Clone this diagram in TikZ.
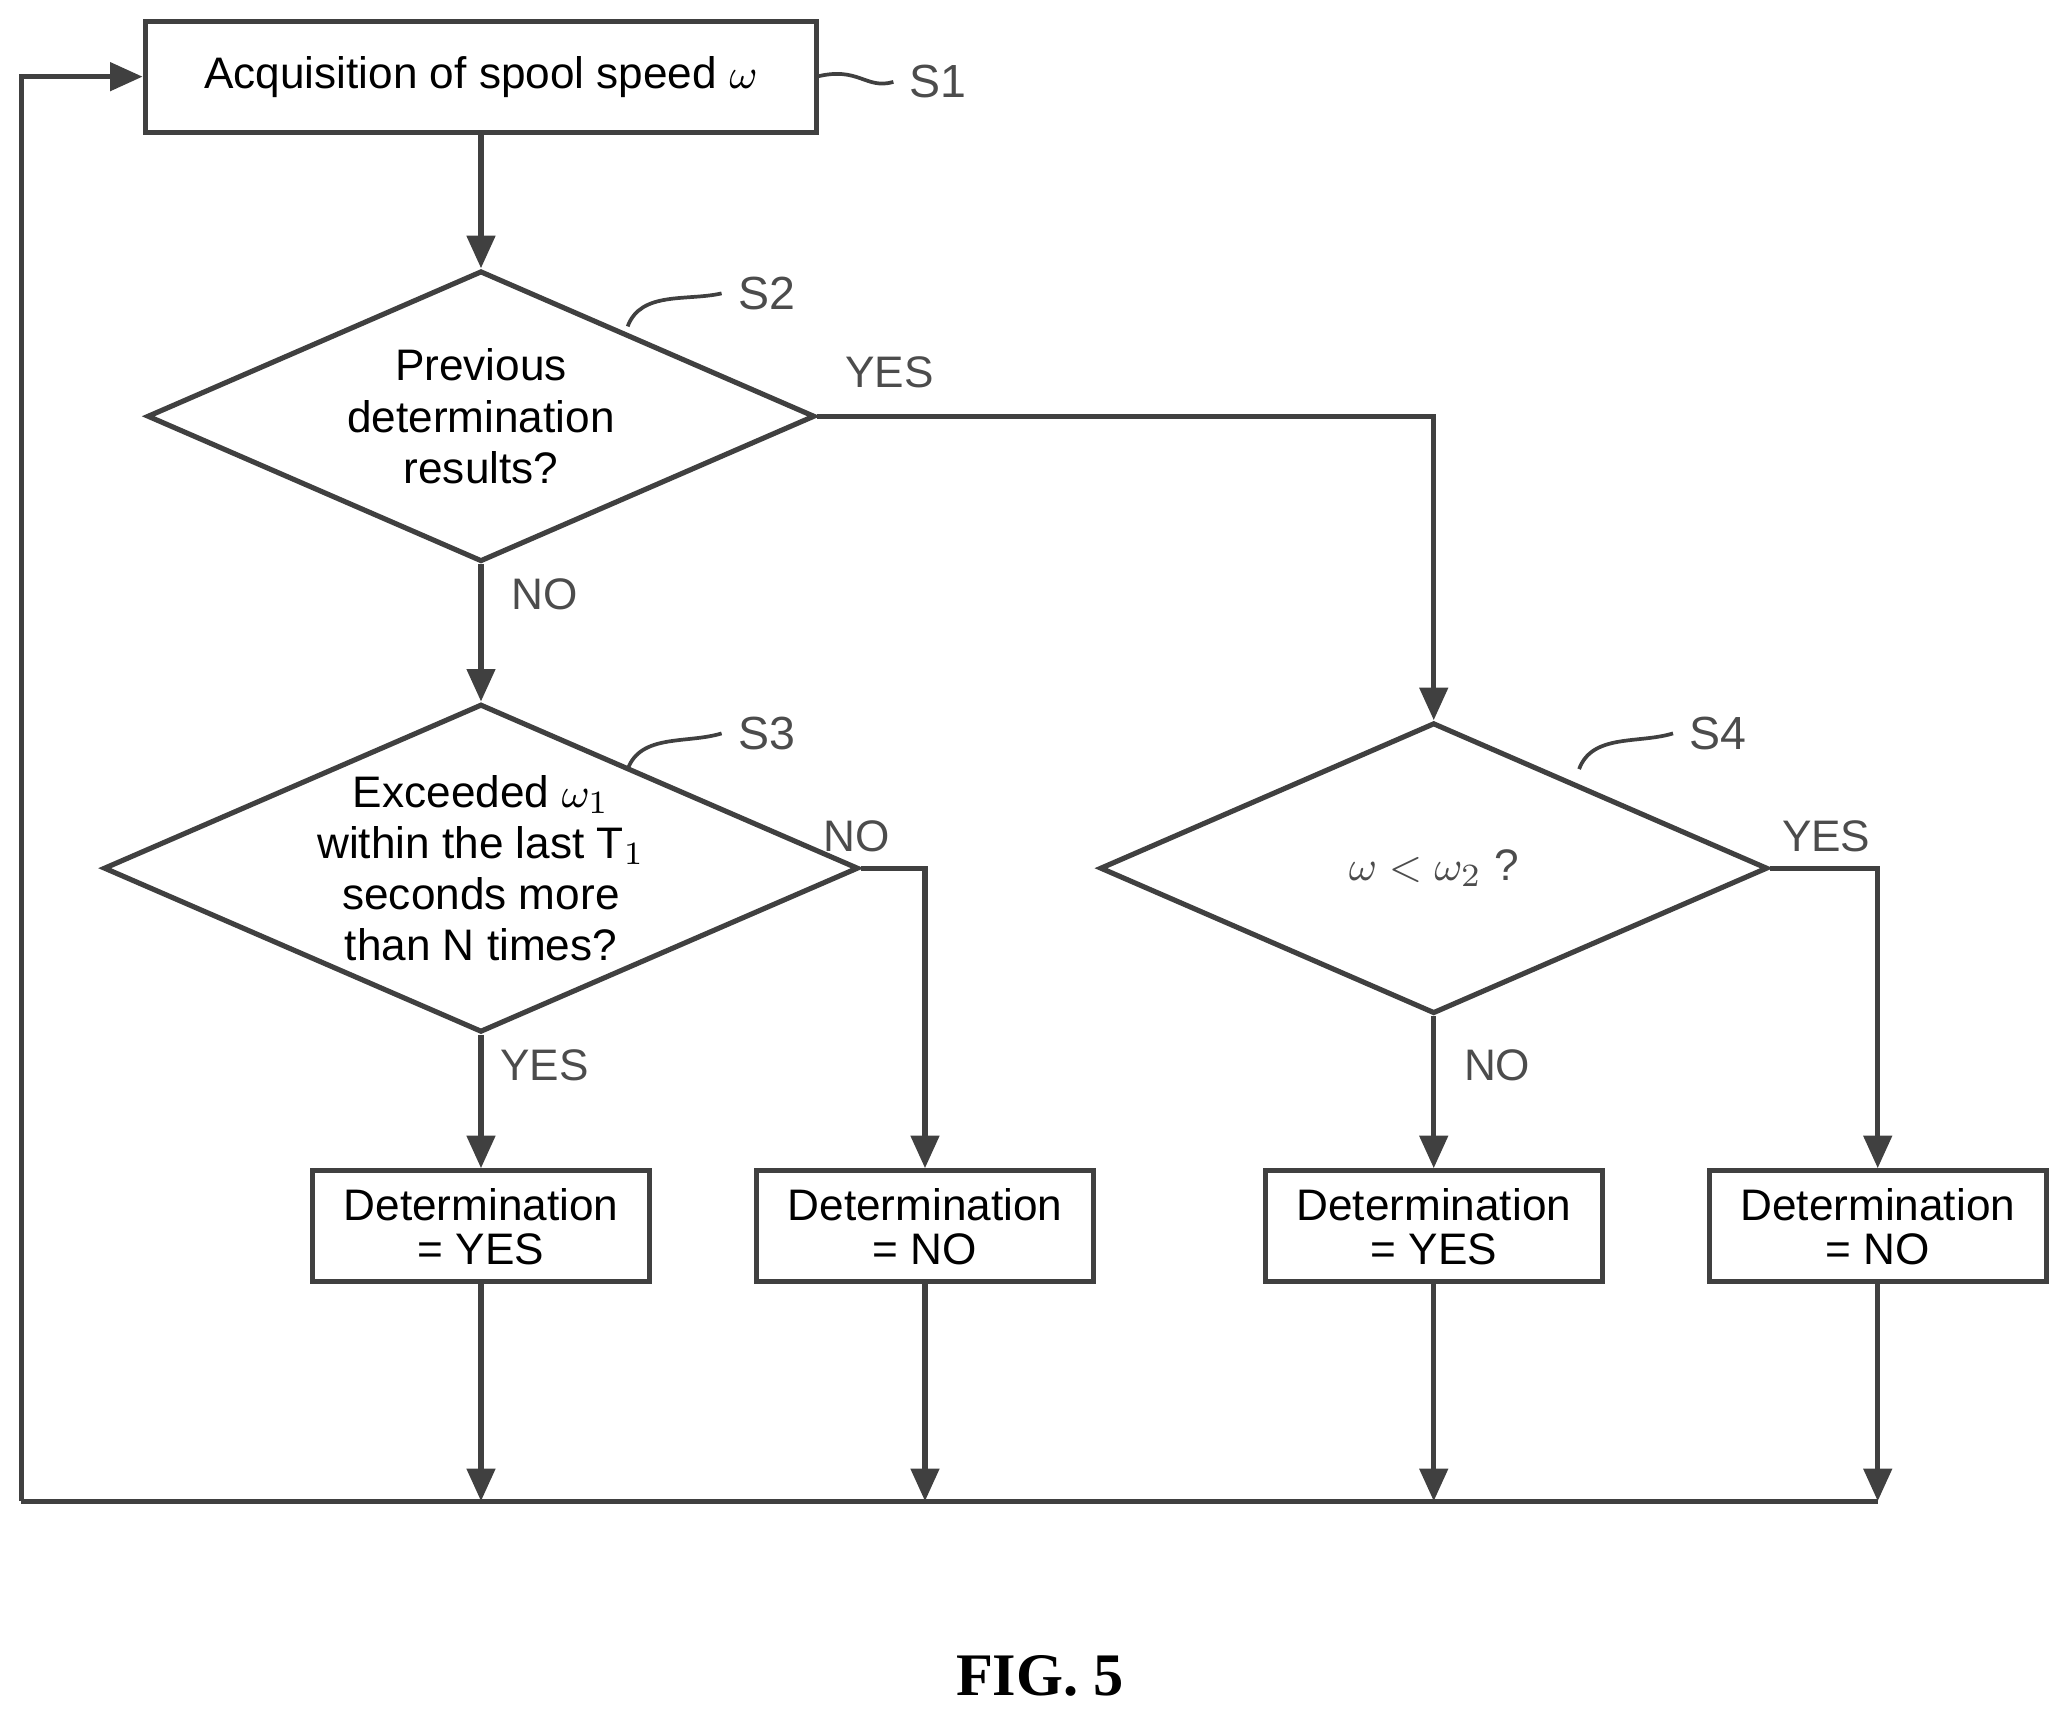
\documentclass[tikz,border=0pt]{standalone}
\usepackage{fontspec}
\setmainfont{Liberation Sans}
\usetikzlibrary{shapes.geometric,arrows.meta}
\tikzset{line/.style={draw=black!75, line width=1.1pt},
  stepbox/.style={line, fill=white, rectangle, minimum width=2.55cm, minimum height=0.84cm, align=center, inner sep=1pt, font=\fontsize{9.5}{9.5}\selectfont},
  test/.style={line, diamond, aspect=2.3, minimum width=5.05cm, minimum height=2.2cm, inner sep=0pt, align=center, font=\fontsize{9.5}{11}\selectfont},
  flow/.style={line, -{Triangle[length=7pt,width=6pt]}},
  answer/.style={text=black!70, font=\fontsize{9.5}{9.5}\selectfont},
  tag/.style={text=black!70, font=\fontsize{10}{10}\selectfont}}
\begin{document}
\begin{tikzpicture}[x=0.01cm,y=-0.01cm]
\useasboundingbox (0,0) rectangle (1568,1299);
\node (s1) [stepbox, minimum width=5.08cm] at (364,58) {Acquisition of spool speed $\omega$};
\node (s2) [test] at (364,315) {Previous\\determination\\results?};
\node (s3) [test] at (364,657) {Exceeded $\omega_1$\\within the last T$_1$\\seconds more\\than N times?};
\node (s4) [test] at (1085,657) {\textcolor{black!70}{$\omega < \omega_2$ ?}};
\node (r1) [stepbox] at (364,928) {Determination\\= YES};
\node (r2) [stepbox] at (700,928) {Determination\\= NO};
\node (r3) [stepbox] at (1085,928) {Determination\\= YES};
\node (r4) [stepbox] at (1421,928) {Determination\\= NO};
\coordinate (c1) at (364,1136);
\coordinate (c2) at (700,1136);
\coordinate (c3) at (1085,1136);
\coordinate (c4) at (1421,1136);
\coordinate (back) at (16,1136);
% flow
\draw [flow] (s1) -- (s2);
\draw [flow] (s2) -- (s3);
\draw [flow] (s2.east) -| (s4.north);
\draw [flow] (s3) -- (r1);
\draw [flow] (s3.east) -| (r2.north);
\draw [flow] (s4) -- (r3);
\draw [flow] (s4.east) -| (r4.north);
\foreach \i in {1,...,4} \draw [flow] (r\i) -- (c\i);
\draw [line] (c4) -- (back);
\draw [flow] (back) |- (s1.west);
% answers
\node [answer] at (673,282) {YES};
\node [answer] at (412,450) {NO};
\node [answer] at (648,633) {NO};
\node [answer] at (412,806) {YES};
\node [answer] at (1382,633) {YES};
\node [answer] at (1133,806) {NO};
% step tags
\node (t1) [tag] at (710,62) {S1};
\node (t2) [tag] at (580,222) {S2};
\node (t3) [tag] at (580,555) {S3};
\node (t4) [tag] at (1300,555) {S4};
\draw [line, line width=0.8pt] (618,58) .. controls (650,50) and (655,68) .. (t1.west);
\draw [line, line width=0.8pt] (475,247) .. controls (485,220) and (520,228) .. (t2.west);
\draw [line, line width=0.8pt] (475,582) .. controls (485,555) and (520,563) .. (t3.west);
\draw [line, line width=0.8pt] (1195,582) .. controls (1205,555) and (1240,563) .. (t4.west);
\node (fig) at (787,1268) {\fontspec{Liberation Serif}\bfseries\fontsize{13}{13}\selectfont FIG. 5};
\end{tikzpicture}
\end{document}
